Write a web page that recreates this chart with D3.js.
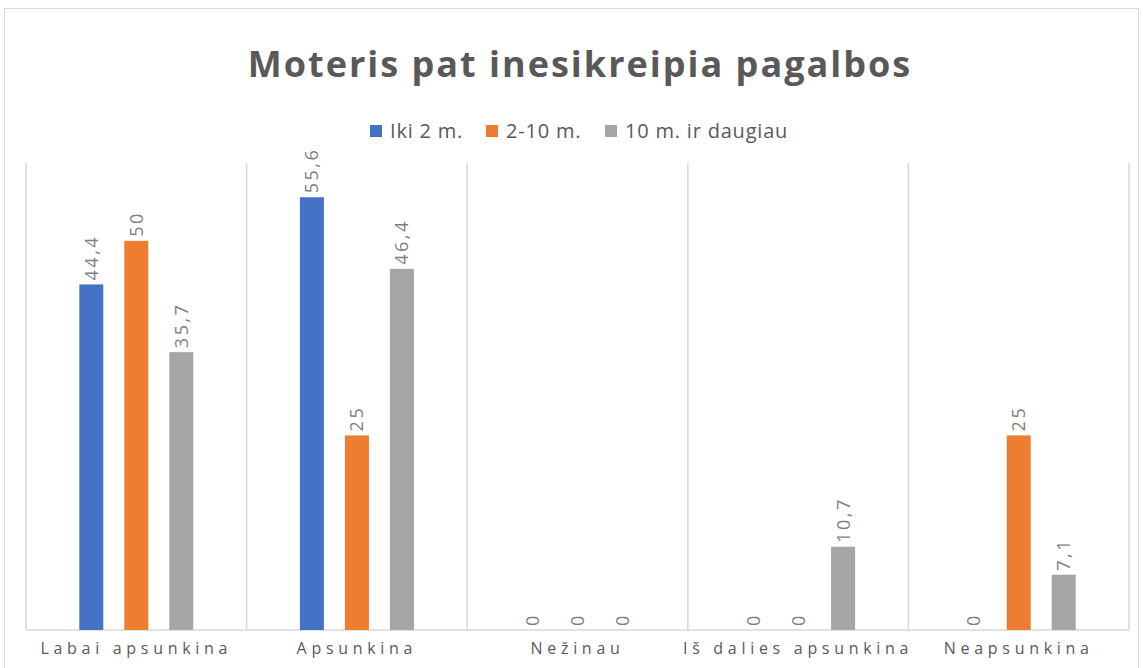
<!DOCTYPE html>
<html><head><meta charset="utf-8">
<script src="https://cdn.jsdelivr.net/npm/d3@7"></script>
<style>body{margin:0;background:#fff;}svg{display:block;}</style>
</head><body>
<script>
const categories = ["Labai apsunkina","Apsunkina","Nežinau","Iš dalies apsunkina","Neapsunkina"];
const seriesNames = ["Iki 2 m.","2-10 m.","10 m. ir daugiau"];
const iki2 = [44.4, 55.6, 0, 0, 0];
const m2to10 = [50, 25, 0, 0, 25];
const m10plus = [35.7, 46.4, 0, 10.7, 7.1];
const colors = ["#4472c4","#ed7d31","#a5a5a5"];
const title = "Moteris pat inesikreipia pagalbos";

const W = 1143, H = 668;
const svg = d3.select("body").append("svg").attr("width", W).attr("height", H);
svg.append("rect").attr("x",4.5).attr("y",8.5).attr("width",1134).attr("height",680)
  .attr("fill","#fff").attr("stroke","#d9d9d9");

const x0 = d3.scaleBand().domain(categories).range([26,1129]).padding(0);
const y = d3.scaleLinear().domain([0,60]).range([630,163]);
const series = [iki2, m2to10, m10plus];
const bw = 24, gap = 45;

const g = svg.append("g");
const bounds = categories.map(c => x0(c)).concat([x0.range()[1]]);
g.selectAll("line.grid").data(bounds).join("line")
  .attr("x1",d=>d).attr("x2",d=>d).attr("y1",y(60)).attr("y2",y(0))
  .attr("stroke","#d9d9d9").attr("stroke-width",1.5);
g.append("line").attr("x1",x0.range()[0]).attr("x2",x0.range()[1]).attr("y1",y(0)).attr("y2",y(0))
  .attr("stroke","#d9d9d9").attr("stroke-width",1.5);

const data = [];
categories.forEach((c,i)=>series.forEach((s,j)=>data.push({c, j, v:s[i]})));
const cx = d => x0(d.c) + x0.bandwidth()/2 + (d.j-1)*gap;

svg.selectAll("rect.bar").data(data).join("rect")
  .attr("x",d=>cx(d)-bw/2).attr("width",bw)
  .attr("y",d=>y(d.v)).attr("height",d=>y(0)-y(d.v))
  .attr("fill",d=>colors[d.j]);

svg.selectAll("text.lbl").data(data).join("text")
  .attr("transform",d=>`translate(${cx(d)+6.5},${y(d.v)-4}) rotate(-90)`)
  .attr("font-family","Open Sans, sans-serif").attr("font-size",18)
  .attr("fill","#7f7f7f").attr("letter-spacing",2.5)
  .text(d=>String(d.v).replace(".",","));

const xAxis = d3.axisBottom(x0).tickSize(0).tickPadding(10);
const ax = svg.append("g").attr("transform",`translate(0,${y(0)})`).call(xAxis);
ax.select(".domain").remove();
ax.selectAll("text").attr("font-family","Open Sans, sans-serif").attr("font-size",16)
  .attr("fill","#595959").attr("letter-spacing",4.7).attr("dy","0.9em");

svg.append("text").attr("x",580).attr("y",77).attr("text-anchor","middle")
  .attr("font-family","Open Sans, sans-serif").attr("font-weight",700).attr("font-size",36)
  .attr("letter-spacing",2).attr("fill","#595959").text(title);

const legX = [370, 486, 605];
const leg = svg.append("g");
seriesNames.forEach((n,i)=>{
  leg.append("rect").attr("x",legX[i]).attr("y",125).attr("width",12).attr("height",12).attr("fill",colors[i]);
  leg.append("text").attr("x",legX[i]+20).attr("y",138).attr("font-family","Open Sans, sans-serif")
    .attr("font-size",20).attr("letter-spacing",0.8).attr("fill","#595959").text(n);
});
</script>
</body></html>
